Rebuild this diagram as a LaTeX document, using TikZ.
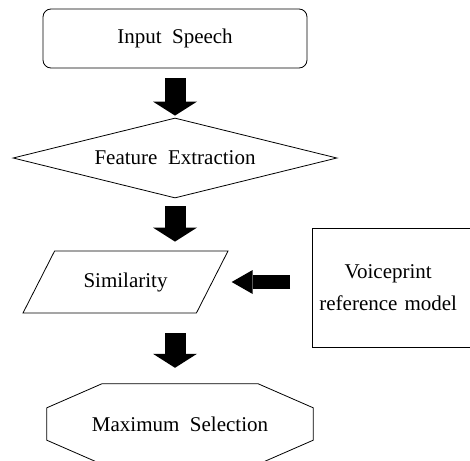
\documentclass[tikz,border=0pt]{standalone}
\usepackage{fontspec}
\setmainfont{Liberation Serif}
\usetikzlibrary{shapes.geometric,arrows.meta}

\begin{document}
\begin{tikzpicture}[x=1pt,y=-1pt,
    font=\fontsize{21}{32}\selectfont,
    block/.style={draw,line width=0.8pt,inner sep=0pt},
    downarrow/.style={line width=21pt,-{Triangle[width=44pt,length=14pt,line width=0pt]}},
    leftarrow/.style={line width=14pt,-{Triangle[width=24pt,length=21pt,line width=0pt]}}]
\clip (0,0) rectangle (470,460);
% flow boxes
\node[block,rounded corners=8pt,minimum width=264pt,minimum height=59pt] (speech) at (175,38.5) {Input\ \ Speech};
\node[block,diamond,aspect=4.05,minimum width=324pt,minimum height=80pt] (feature) at (175,158) {Feature\ \ Extraction};
\node[block,trapezium,trapezium left angle=63,trapezium right angle=117,trapezium stretches body,
      text height=15pt,text depth=5pt,inner ysep=21pt,minimum width=205pt] (sim) at (125.5,282) {Similarity};
\node[inner sep=0pt,minimum width=266pt,minimum height=80pt] (maxsel) at (180,424) {Maximum\ \ Selection};
\draw[line width=0.8pt] ([xshift=55pt]maxsel.north west) -- ([xshift=-55pt]maxsel.north east)
  -- ([yshift=-24pt]maxsel.north east) -- ([yshift=24pt]maxsel.south east)
  -- ([xshift=-55pt]maxsel.south east) -- ([xshift=55pt]maxsel.south west)
  -- ([yshift=24pt]maxsel.south west) -- ([yshift=-24pt]maxsel.north west) -- cycle;
% reference model, cut off at the right
\node[anchor=west,text width=152pt,align=center,inner sep=0pt,minimum height=119pt] (voice) at (312,287.5) {Voiceprint\\reference model};
\draw[line width=0.8pt] (voice.south west) rectangle ++(180,-119);
% block arrows
\draw[downarrow,shorten <=10pt,shorten >=2pt] (speech.south) -- (feature.north);
\draw[downarrow,shorten <=8pt,shorten >=9pt] (feature.south) -- (feature.south |- sim.north);
\draw[downarrow,shorten <=20pt,shorten >=16pt] (feature.south |- sim.south) -- (feature.south |- maxsel.north);
\draw[leftarrow,shorten <=22pt,shorten >=19pt] (voice.west |- sim.east) -- (sim.east);
\end{tikzpicture}
\end{document}
